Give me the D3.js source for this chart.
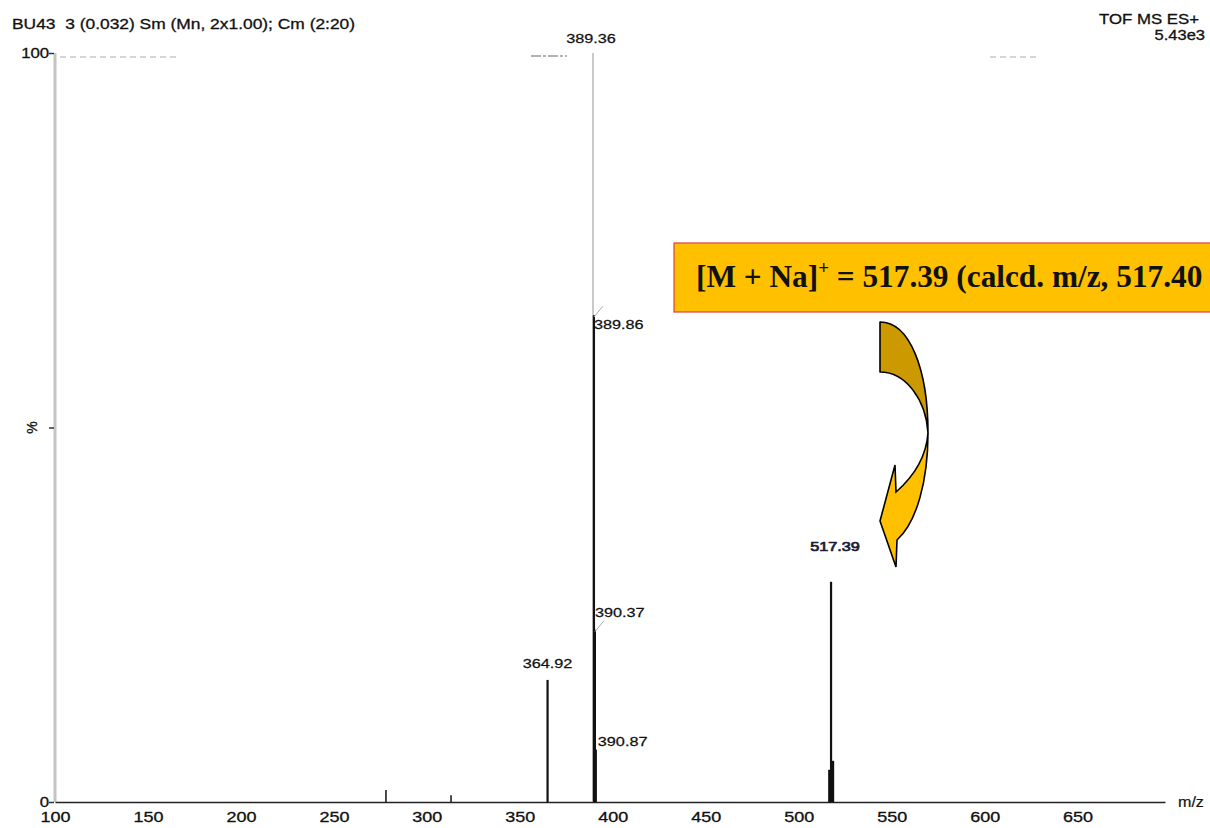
<!DOCTYPE html>
<html>
<head>
<meta charset="utf-8">
<script src="https://cdn.jsdelivr.net/npm/d3@7"></script>
<style>
  html, body { margin: 0; padding: 0; background: #fff; }
  svg { display: block; }
</style>
</head>
<body>
<svg id="chart" width="1210" height="828"></svg>
<script>
// Centroided peaks of the TOF MS ES+ spectrum (m/z, relative intensity %)
const peakMz        = [278.0, 313.0, 364.92, 389.36, 389.86, 390.37, 390.87, 516.9, 517.39, 518.0];
const peakIntensity = [1.6,   0.9,   16.3,   100,    65,     23,     7,      4.3,   29.4,   5.5];
// Peaks that carry a printed m/z label
const labelMz       = ["389.36", "389.86", "390.37", "390.87", "364.92", "517.39"];
const xTicks        = [100, 150, 200, 250, 300, 350, 400, 450, 500, 550, 600, 650];
const yTicks        = [0, 50, 100];
const headerLeft    = "BU43  3 (0.032) Sm (Mn, 2x1.00); Cm (2:20)";
const headerRight   = ["TOF MS ES+", "5.43e3"];
const annotation    = "517.39 (calcd. m/z, 517.40";

const svg = d3.select("#chart");
const font = "'Liberation Sans', Arial, sans-serif";

const x = d3.scaleLinear().domain([100, 697]).range([55, 1165]);
const y = d3.scaleLinear().domain([0, 100]).range([802, 53]);

// instrument text is printed slightly wide; stretch it horizontally
function wideText(g, px, py, str, opts = {}) {
  const sx = opts.sx || 1.2;
  return g.append("text")
    .attr("transform", `translate(${px},${py}) scale(${sx},1)`)
    .attr("text-anchor", opts.anchor || "start")
    .attr("font-family", font).attr("font-size", opts.size || 14)
    .attr("fill", opts.color || "#111")
    .attr("stroke", opts.color || "#111").attr("stroke-width", opts.sw || 0.3)
    .style("white-space", "pre")
    .text(str);
}

// header
wideText(svg, 12, 29, headerLeft, { size: 15, sx: 1.16 });
wideText(svg, 1199, 24, headerRight[0], { size: 14, sx: 1.2, anchor: "end" });
wideText(svg, 1205, 40, headerRight[1], { size: 14, sx: 1.18, anchor: "end" });

// faint scan marks along the 100 % line
[[60, 180], [990, 1040]].forEach(([a, b]) => {
  svg.append("line").attr("x1", a).attr("x2", b).attr("y1", 57).attr("y2", 57)
    .attr("stroke", "#c8c8c8").attr("stroke-width", 1.5).attr("stroke-dasharray", "6,4");
});

// y axis
svg.append("line").attr("x1", x(100)).attr("x2", x(100)).attr("y1", y(100)).attr("y2", y(0))
  .attr("stroke", "#c4c4c4").attr("stroke-width", 3);
const yAxis = d3.axisLeft(y).tickValues(yTicks).tickSize(5)
  .tickFormat(d => d === 50 ? "" : d);
const gy = svg.append("g").attr("transform", `translate(${x(100) - 1},0)`).call(yAxis);
gy.select(".domain").remove();
gy.selectAll(".tick line").attr("stroke", "#333").attr("stroke-width", 1.5);
gy.selectAll(".tick text").attr("font-family", font).attr("font-size", 14)
  .attr("fill", "#111").attr("stroke", "#111").attr("stroke-width", 0.3)
  .attr("x", -4).attr("transform", "scale(1.2,1)");
svg.append("text")
  .attr("transform", `translate(37,${y(50)}) rotate(-90)`)
  .attr("text-anchor", "middle").attr("font-family", font).attr("font-size", 14)
  .attr("fill", "#111").attr("stroke", "#111").attr("stroke-width", 0.3).text("%");

// x axis
const xAxis = d3.axisBottom(x).tickValues(xTicks).tickSize(0).tickPadding(9);
const gx = svg.append("g").attr("transform", `translate(0,${y(0)})`).call(xAxis);
gx.select(".domain").attr("stroke", "#222").attr("stroke-width", 1.6);
gx.selectAll(".tick text").attr("font-family", font).attr("font-size", 15)
  .attr("fill", "#111").attr("stroke", "#111").attr("stroke-width", 0.3)
  .attr("transform", "scale(1.2,1)");
wideText(svg, 1178, 807, "m/z", { size: 14, sx: 1.15, sw: 0.2 });

// peaks
const peaks = peakMz.map((m, i) => ({ mz: m, v: peakIntensity[i] }));
svg.append("g").selectAll("line").data(peaks).join("line")
  .attr("x1", d => x(d.mz)).attr("x2", d => x(d.mz))
  .attr("y1", y(0)).attr("y2", d => y(d.v))
  .attr("stroke", d => d.v === 100 ? "#b8b8b8" : "#111")
  .attr("stroke-width", d => (d.v < 7 && d.mz > 500) ? 4 : (d.v === 100 ? 1.5 : (d.v < 2 ? 1.5 : 2.2)));

// peak labels
const labelPos = {
  "389.36": { dx: -2, dy: -10, anchor: "middle" },
  "389.86": { dx: 0,  dy: 14,  anchor: "start" },
  "390.37": { dx: 0,  dy: -13, anchor: "start" },
  "390.87": { dx: 2,  dy: -4,  anchor: "start" },
  "364.92": { dx: 0,  dy: -12, anchor: "middle" },
  "517.39": { dx: 4,  dy: -31, anchor: "middle" }
};
labelMz.forEach(lbl => {
  const p = peaks.find(d => d.mz === +lbl);
  const pos = labelPos[lbl];
  const blue = lbl === "517.39";
  wideText(svg, x(p.mz) + pos.dx, y(p.v) + pos.dy, lbl, {
    size: 13, sx: 1.25, anchor: pos.anchor,
    color: blue ? "#1a1a3a" : "#111", sw: blue ? 0.7 : 0.25
  });
});
// leader marks next to labels
const base = peaks.find(d => d.mz === 389.36);
svg.append("line").attr("x1", x(base.mz) - 62).attr("x2", x(base.mz) - 26)
  .attr("y1", 56).attr("y2", 56).attr("stroke", "#999").attr("stroke-width", 1.5)
  .attr("stroke-dasharray", "10,2,3,2");
[389.86, 390.37].forEach(m => {
  const p = peaks.find(d => d.mz === m);
  svg.append("line").attr("x1", x(m)).attr("y1", y(p.v) + 2)
    .attr("x2", x(m) + 9).attr("y2", y(p.v) - 9)
    .attr("stroke", "#aaa").attr("stroke-width", 1);
});

// annotation box
svg.append("rect").attr("x", 674).attr("y", 243).attr("width", 545).attr("height", 69)
  .attr("fill", "#FFC000").attr("stroke", "#e0403a").attr("stroke-width", 1.2);
const ann = svg.append("text").attr("x", 696).attr("y", 287)
  .attr("font-family", "'Liberation Serif', 'Times New Roman', serif")
  .attr("font-size", 31.3).attr("font-weight", "bold").attr("fill", "#111");
ann.append("tspan").text("[M + Na]");
ann.append("tspan").attr("dy", -13).attr("font-size", 19).text("+");
ann.append("tspan").attr("dy", 13).text(" = " + annotation);

// curved arrow pointing at the 517.39 peak
const arrowTop = "M880,322 C910,322 928,370 928,433 C926,400 906,372 880,372 Z";
const arrowBottom = "M928,433 C928,480 917,522 897,540 L896,567 L880,521 L895,465 L896,492 C912,478 926,460 928,433 Z";
svg.append("path").attr("d", arrowTop)
  .attr("fill", "#CC9900").attr("stroke", "#000").attr("stroke-width", 1.6).attr("stroke-linejoin", "round");
svg.append("path").attr("d", arrowBottom)
  .attr("fill", "#FFC000").attr("stroke", "#000").attr("stroke-width", 1.6).attr("stroke-linejoin", "miter");
</script>
</body>
</html>
